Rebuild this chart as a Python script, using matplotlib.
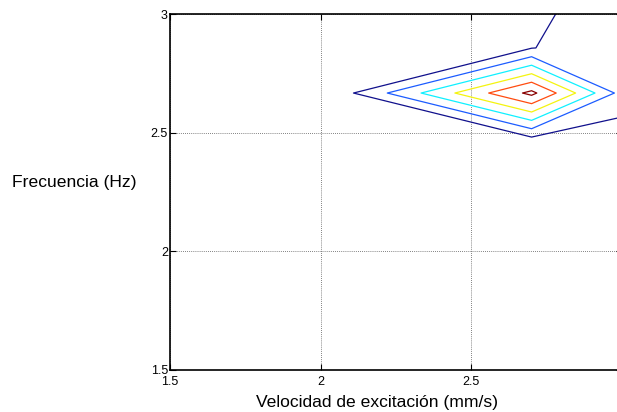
import numpy as np
import matplotlib
matplotlib.use('Agg')
import matplotlib.pyplot as plt

plt.rcParams['font.family'] = ['Liberation Sans', 'DejaVu Sans']

velocidad = [1.5, 2.1, 2.7, 3.0, 3.3]
frecuencia = [1.5, 2.4, 2.667, 2.857, 3.2]
amplitud = [
    [0.0, 0.0, 0.0, 0.0, 0.0],
    [0.0, 0.3, -1.31, 0.0, 0.0],
    [0.0, 0.92, 6.27, 1.61, 0.5],
    [0.0, 0.5, 0.97, 1.6, 0.8],
    [0.0, 0.0, 0.5, 1.373, 1.2],
]
niveles = [1, 2, 3, 4, 5, 6]
# jet-like line colours, one per level
colores = ['#10108c', '#1c5cff', '#10f0ff', '#f4f410', '#ff4c10', '#880000']

xticks = [1.5, 2, 2.5]
xtick_labels = ['1.5', '2', '2.5']
yticks = [1.5, 2, 2.5, 3]
ytick_labels = ['1.5', '2', '2.5', '3']

fig = plt.figure(figsize=(6.17, 4.12), dpi=100)
ax = fig.add_axes([0.2755, 0.102, 0.7326, 0.864])

ax.contour(velocidad, frecuencia, np.array(amplitud), levels=niveles,
           colors=colores, linewidths=0.9)

ax.set_xlim(1.5, 3)
ax.set_ylim(1.5, 3)
ax.set_xticks(xticks)
ax.set_xticklabels(xtick_labels)
ax.set_yticks(yticks)
ax.set_yticklabels(ytick_labels)
ax.grid(True, linestyle=(0, (1, 1.5)), color='0.35', linewidth=0.6)
ax.tick_params(direction='in', length=4, labelsize=9, top=True, right=True,
               width=0.8, colors='black')
ax.tick_params(axis='x', pad=4.2)
ax.tick_params(axis='y', pad=1.5)
for s in ax.spines.values():
    s.set_linewidth(1.2)

ax.set_xlabel('Velocidad de excitación (mm/s)', fontsize=12.6, va='center')
ax.xaxis.set_label_coords(0.458, -0.09)
ax.set_ylabel('Frecuencia (Hz)', fontsize=12.6, rotation=0, ha='center', va='center')
ax.yaxis.set_label_coords(-0.212, 0.528)

fig.savefig('out.png', dpi=100)
